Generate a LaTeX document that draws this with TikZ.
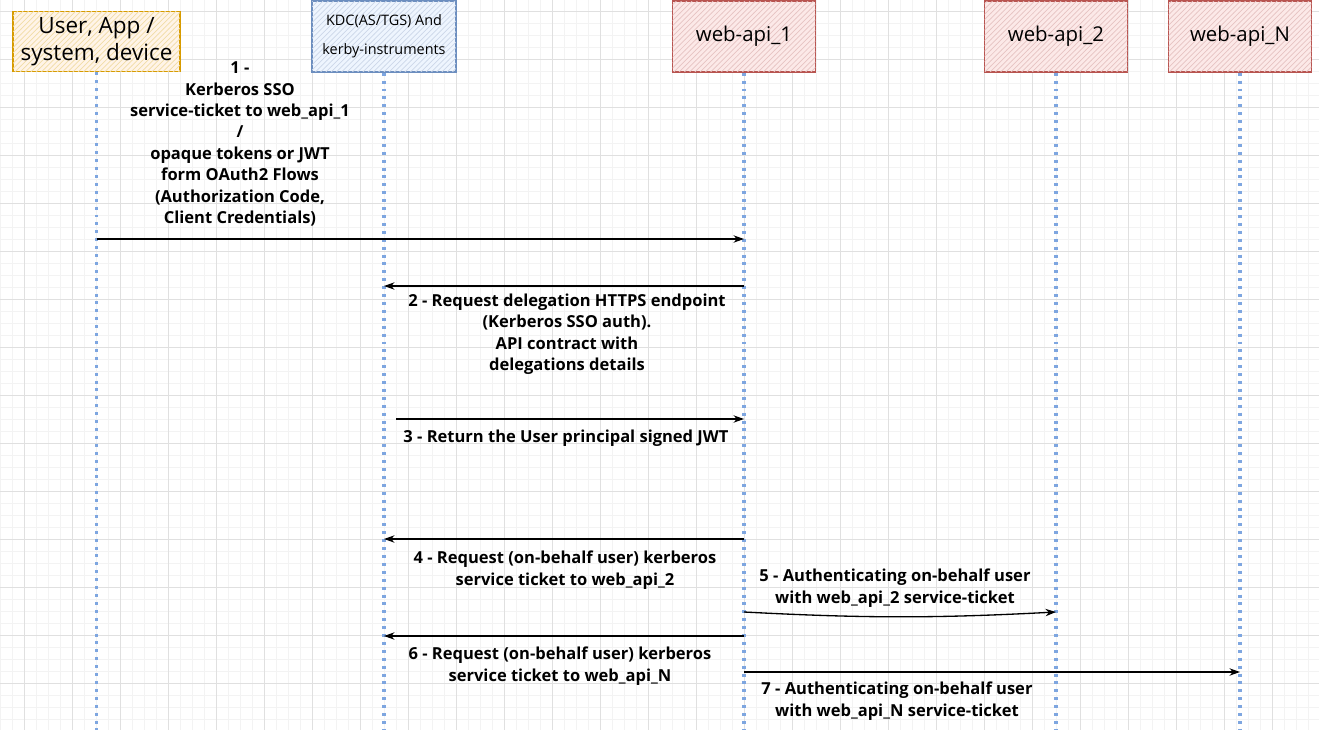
\documentclass[tikz,border=0pt]{standalone}
\usepackage{fontspec}
\setmainfont{Open Sans}
\usetikzlibrary{arrows.meta, positioning, patterns}

\definecolor{gridminor}{HTML}{F3F3F3}
\definecolor{gridmajor}{HTML}{E0E0E0}
\definecolor{lifeblue}{HTML}{7EA6E0}
\definecolor{userdraw}{HTML}{D79B00}
\definecolor{userfill}{HTML}{FFE6CC}
\definecolor{kdcdraw}{HTML}{6C8EBF}
\definecolor{kdcfill}{HTML}{DAE8FC}
\definecolor{apidraw}{HTML}{B85450}
\definecolor{apifill}{HTML}{F8CECC}

\begin{document}
\begin{tikzpicture}[
  x=0.02cm, y=-0.02cm,
  font=\fontsize{9.4}{12.2}\selectfont\bfseries,
  actor/.style={
    draw=#1draw,
    fill=#1fill!45,
    line width=0.8pt,
    align=center,
    inner sep=2pt,
    minimum width=2.86cm,
    minimum height=1.42cm,
    postaction={pattern=north east lines, pattern color=#1draw!35}
  },
  lifeline/.style={
    draw=lifeblue,
    line width=1.9pt,
    dash pattern=on 1.7pt off 2.8pt
  },
  msg/.style={
    -{Stealth[length=6pt, width=4.2pt]},
    line width=0.75pt
  },
  note/.style={
    align=center,
    inner sep=0pt
  },
  minorgrid/.style={draw=gridminor, line width=0.5pt},
  majorgrid/.style={draw=gridmajor, line width=0.6pt}
]
\useasboundingbox (0,0) rectangle (1319,730);
\fill[white] (0,0) rectangle (1319,730);

% Background grid
\foreach \gx in {0.3,12.3,...,1319} \draw[minorgrid] (\gx,0) -- (\gx,730);
\foreach \gy in {11.3,23.3,...,730} \draw[minorgrid] (0,\gy) -- (1319,\gy);
\foreach \gx in {24.3,72.3,...,1319} \draw[majorgrid] (\gx,0) -- (\gx,730);
\foreach \gy in {11.3,59.3,...,730} \draw[majorgrid] (0,\gy) -- (1319,\gy);

% -------------------------------------------------------------------
% Participants
% -------------------------------------------------------------------
\node[actor=user, minimum width=3.34cm, minimum height=1.2cm,
  font=\fontsize{12.8}{15.3}\selectfont] (user) at (96.5,41.5)
{User, App /\\system, device};

\node[actor=kdc, minimum width=2.88cm,
  font=\fontsize{8.2}{16.4}\selectfont] (kdc) at (384,36.5)
{KDC(AS/TGS) And\\kerby-instruments};

\node[actor=api, font=\fontsize{11.6}{13}\selectfont] (api1) at (744,36.5) {web-api\_1};
\node[actor=api, font=\fontsize{11.6}{13}\selectfont] (api2) at (1056,36.5) {web-api\_2};
\node[actor=api, font=\fontsize{11.6}{13}\selectfont] (apin) at (1240,36.5) {web-api\_N};

% Lifelines
\foreach \who in {user,kdc,api1,api2,apin}
  \draw[lifeline] (\who.south) -- (\who |- 0,730);

% -------------------------------------------------------------------
% Message end points
% -------------------------------------------------------------------
\coordinate (m1a) at (user |- 0,239);
\coordinate (m1b) at (api1 |- 0,239);
\coordinate (m2a) at (api1 |- 0,286);
\coordinate (m2b) at (kdc |- 0,286);
\coordinate (m3a) at (396,419);
\coordinate (m3b) at (api1 |- 0,419);
\coordinate (m4a) at (api1 |- 0,539);
\coordinate (m4b) at (kdc |- 0,539);
\coordinate (m5a) at (api1 |- 0,612);
\coordinate (m5b) at (api2 |- 0,612);
\coordinate (m6a) at (api1 |- 0,636);
\coordinate (m6b) at (kdc |- 0,636);
\coordinate (m7a) at (api1 |- 0,672);
\coordinate (m7b) at (apin |- 0,672);

% Messages
\draw[msg] (m1a) -- (m1b);
\draw[msg] (m2a) -- (m2b);
\draw[msg] (m3a) -- (m3b);
\draw[msg] (m4a) -- (m4b);
\draw[msg] (m5a) to[bend right=3] (m5b);
\draw[msg] (m6a) -- (m6b);
\draw[msg] (m7a) -- (m7b);

% Message labels
\node[note] (l1) at (240,144)
{1 -\\Kerberos SSO\\service-ticket to web\_api\_1\\/\\opaque tokens or JWT\\form OAuth2 Flows\\(Authorization Code,\\Client Credentials)};

\node[note] (l2) at (567,334)
{2 - Request delegation HTTPS endpoint\\(Kerberos SSO auth).\\API contract with\\delegations details};

\node[note] (l3) at (566,438)
{3 - Return the User principal signed JWT};

\node[note] (l4) at (565,570)
{4 - Request (on-behalf user) kerberos\\service ticket to web\_api\_2};

\node[note] (l5) at (895,588)
{5 - Authenticating on-behalf user\\with web\_api\_2 service-ticket};

\node[note] (l6) at (560,666)
{6 - Request (on-behalf user) kerberos\\service ticket to web\_api\_N};

\node[note] (l7) at (897,701)
{7 - Authenticating on-behalf user\\with web\_api\_N service-ticket};

\end{tikzpicture}
\end{document}
